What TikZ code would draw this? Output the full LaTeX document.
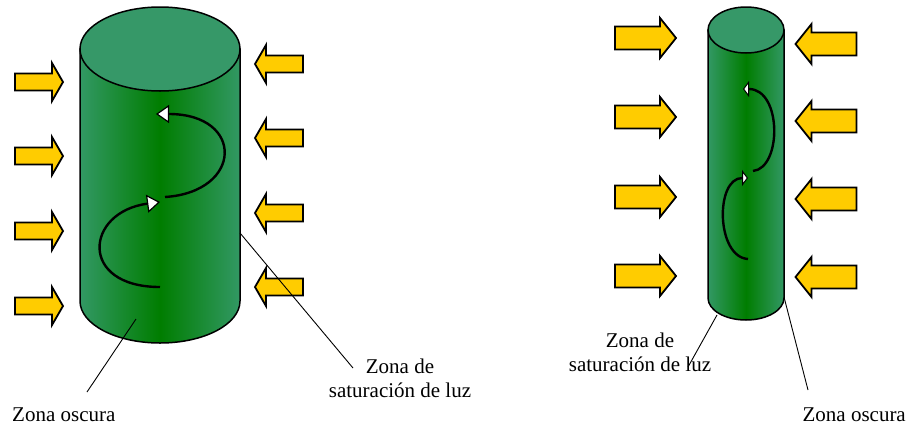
\documentclass[tikz,border=0pt]{standalone}
\usepackage{fontspec}
\setmainfont{Liberation Serif}
\newfontfamily\serifface{Liberation Serif}
\usetikzlibrary{arrows.meta}
\definecolor{leafedge}{RGB}{50,152,100}
\definecolor{leafmid}{RGB}{0,125,0}
\definecolor{leaftop}{RGB}{54,152,104}
\definecolor{lightflux}{RGB}{255,204,0}
\begin{document}
\begin{tikzpicture}[x=1pt,y=-1pt,
  edgeline/.style={draw=black,line width=1.5pt},
  stem/.style={edgeline,left color=leafedge,right color=leafedge,middle color=leafmid},
  topface/.style={edgeline,fill=leaftop},
  helix/.style={line width=2.4pt},
  bigtip/.style={-{Triangle[length=13pt,width=18pt,fill=white,line width=1.2pt]}},
  smalltip/.style={-{Triangle[length=6pt,width=16pt,fill=white,line width=1pt]}},
  leader/.style={line width=0.9pt},
  captext/.style={font=\serifface\fontsize{21}{24}\selectfont,inner sep=0pt},
  arrowbody/.style={draw=black,line width=1.8pt,fill=lightflux},
  bigarrow/.pic={\draw[arrowbody]
    (-24,-8.5) -- (13,-8.5) -- (13,-19) -- (24,0) -- (13,19) -- (13,8.5) -- (-24,8.5) -- cycle;},
  smallarrow/.pic={\draw[arrowbody]
    (-30.5,-11.5) -- (14.5,-11.5) -- (14.5,-20) -- (30.5,0) -- (14.5,20) -- (14.5,11.5) -- (-30.5,11.5) -- cycle;}
]
\useasboundingbox (0,0) rectangle (907,426);

% ---- wide culture tube ----
\path[stem] (80,49) -- (80,301) arc[start angle=180,end angle=0,x radius=80,y radius=42] -- (240,49) -- cycle;
\path[topface] (160,49) ellipse[x radius=80,y radius=42];

% circulation path inside the wide tube
\draw[helix,bigtip] (160,287) .. controls (78,287) and (85,212) .. (160,202);
\draw[helix,bigtip] (165,197) .. controls (243,192) and (245,114) .. (156,114);

% incoming light, wide tube
\foreach \y in {82,156,231,306} \pic at (39,\y) {bigarrow};
\foreach \y in {64,138,213,287} \pic[xscale=-1] at (279,\y) {bigarrow};

% ---- narrow culture tube ----
\path[stem] (708,30) -- (708,298) arc[start angle=180,end angle=0,x radius=38,y radius=22] -- (784,30) -- cycle;
\path[topface] (746,30) ellipse[x radius=38,y radius=23];

% circulation path inside the narrow tube
\draw[helix,smalltip] (748,259) .. controls (716,257) and (715,178) .. (748,178);
\draw[helix,smalltip] (753,171) .. controls (782,168) and (782,89) .. (743,89);

% incoming light, narrow tube
\foreach \y in {38,117,197,276} \pic at (645.5,\y) {smallarrow};
\foreach \y in {44,121,199,277} \pic[xscale=-1] at (826,\y) {smallarrow};

% ---- labels ----
\node[captext,anchor=base west] (darkL) at (12,421) {Zona oscura};
\node[captext,align=center,anchor=base] (satL) at (400,397) {Zona de\\saturación de luz};
\node[captext,align=center,anchor=base] (satR) at (640,371) {Zona de\\saturación de luz};
\node[captext,anchor=base east] (darkR) at (906,421) {Zona oscura};

\coordinate (darkLa) at (136,319);
\coordinate (darkLb) at (87,392);
\coordinate (satLa) at (240,233);
\coordinate (satLb) at (353,368);
\coordinate (satRa) at (717,315);
\coordinate (satRb) at (688,367);
\coordinate (darkRa) at (784,297);
\coordinate (darkRb) at (808,390);

\draw[leader] (darkLa) -- (darkLb);
\draw[leader] (satLa) -- (satLb);
\draw[leader] (satRa) -- (satRb);
\draw[leader] (darkRa) -- (darkRb);
\end{tikzpicture}
\end{document}
